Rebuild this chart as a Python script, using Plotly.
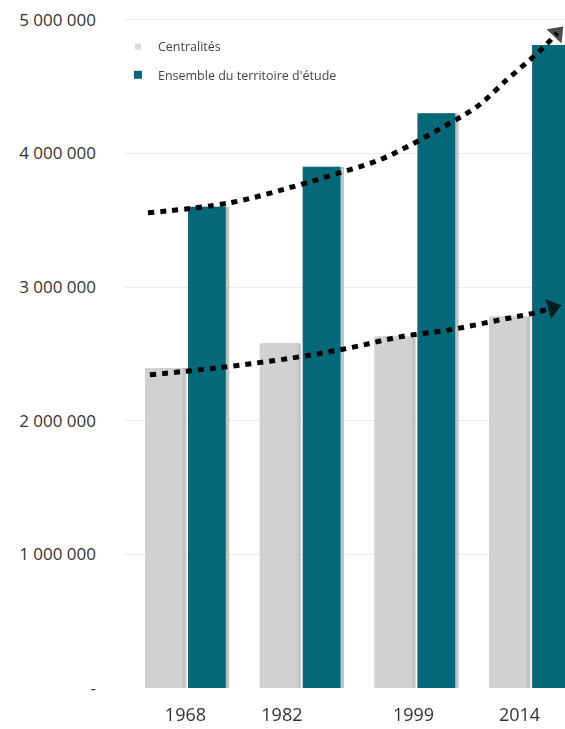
import plotly.graph_objects as go

# ---- data ----
years = ["1968", "1982", "1999", "2014"]
centralites = [2395000, 2580000, 2630000, 2780000]
ensemble = [3600000, 3900000, 4300000, 4810000]

# trend curves (x in category units, y in population)
trend_up_x = [-0.327, 0.388, 0.937, 1.347, 1.696, 1.983, 2.28, 2.541, 2.803, 3.003, 3.13, 3.24]
trend_up_y = [3555000, 3630000, 3750000, 3855000, 3952000, 4072000, 4214000, 4349000, 4551000, 4700000, 4800000, 4900000]
trend_low_x = [-0.31, 0.275, 0.937, 1.434, 1.87, 2.306, 2.742, 3.05, 3.2]
trend_low_y = [2343000, 2395000, 2470000, 2545000, 2627000, 2680000, 2754000, 2808000, 2845000]

y_tickvals = [0, 1000000, 2000000, 3000000, 4000000, 5000000]
y_ticktext = ["-", "1 000 000", "2 000 000", "3 000 000", "4 000 000", "5 000 000"]

GREY = "#d1d1d1"
TEAL = "#05697a"
SHADOW = "#a9a9a9"
FONT = "Open Sans"

xpos = list(range(len(years)))
# tick label positions as they appear in the reference
x_tickpos = [0.0, 0.841, 1.988, 2.912]

W = 0.33
SH = 0.03

fig = go.Figure()

# shadows
fig.add_trace(go.Bar(x=xpos, y=centralites, offset=-0.353 + SH, width=W,
                     marker=dict(color=SHADOW, line=dict(width=0)), opacity=0.7,
                     showlegend=False, hoverinfo="skip"))
fig.add_trace(go.Bar(x=xpos, y=ensemble, offset=0.022 + SH, width=W,
                     marker=dict(color=SHADOW, line=dict(width=0)), opacity=0.7,
                     showlegend=False, hoverinfo="skip"))
# bars
fig.add_trace(go.Bar(x=xpos, y=centralites, offset=-0.353, width=W,
                     marker=dict(color=GREY, line=dict(width=0)),
                     showlegend=False, name="Centralités"))
fig.add_trace(go.Bar(x=xpos, y=ensemble, offset=0.022, width=W,
                     marker=dict(color=TEAL, line=dict(width=0)),
                     showlegend=False, name="Ensemble du territoire d'étude"))

# trend arrows
for tx, ty in [(trend_up_x, trend_up_y), (trend_low_x, trend_low_y)]:
    sizes = [0] * (len(tx) - 1) + [18]
    fig.add_trace(go.Scatter(
        x=tx, y=ty, mode="lines+markers",
        line=dict(color="black", width=5, dash="6px,6px", shape="spline"),
        marker=dict(size=sizes, symbol="triangle-up", angleref="previous",
                    color="black", line=dict(width=0)),
        showlegend=False, hoverinfo="skip", cliponaxis=False))

# legend entries
fig.add_trace(go.Scatter(x=[None], y=[None], mode="markers", name="Centralités",
                         marker=dict(symbol="square", size=6, color="#d9d9d9"),
                         legendgroup="a"))
fig.add_trace(go.Scatter(x=[None], y=[None], mode="markers",
                         name="Ensemble du territoire d'étude",
                         marker=dict(symbol="square", size=8, color=TEAL),
                         legendgroup="b"))

fig.update_layout(
    width=565, height=729,
    margin=dict(l=125, r=0, t=13, b=41),
    paper_bgcolor="white", plot_bgcolor="white",
    barmode="overlay",
    font=dict(family=FONT, color="#333333"),
    legend=dict(x=-0.016, y=0.972, xanchor="left", yanchor="top",
                font=dict(size=12.5, color="#444444", family=FONT),
                itemwidth=30, tracegroupgap=9, bgcolor="rgba(0,0,0,0)"),
    xaxis=dict(range=[-0.527, 3.309], tickvals=x_tickpos, ticktext=years,
               showgrid=False, zeroline=False, showline=False, ticks="",
               automargin=False,
               tickfont=dict(size=18, color="#333333"), ticklabelstandoff=14),
    yaxis=dict(range=[0, 5050000], tickvals=y_tickvals, ticktext=y_ticktext,
               showgrid=True, gridcolor="#ececec", gridwidth=1,
               zeroline=False, showline=False, ticks="", automargin=False,
               tickfont=dict(size=17, color="#333333"), ticklabelstandoff=28),
)

fig.write_html("out.html")
